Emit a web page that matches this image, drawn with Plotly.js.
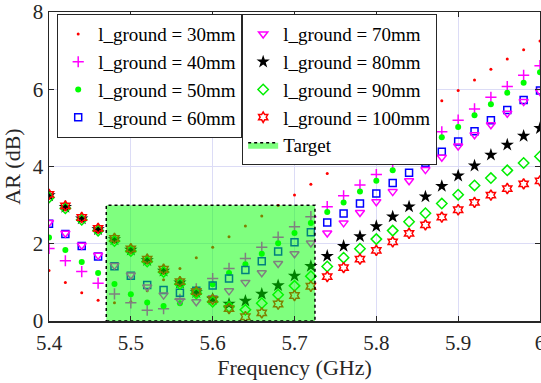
<!DOCTYPE html>
<html><head><meta charset="utf-8">
<script src="https://cdn.plot.ly/plotly-3.0.1.min.js"></script>
<style>html,body{margin:0;padding:0;background:#fff}#chart{width:541px;height:383px}</style>
</head><body><div id="chart"></div>
<script>
const freq = [5.40,5.42,5.44,5.46,5.48,5.50,5.52,5.54,5.56,5.58,5.60,5.62,5.64,5.66,5.68,5.70,5.72,5.74,5.76,5.78,5.80,5.82,5.84,5.86,5.88,5.90,5.92,5.94,5.96,5.98,6.00];
const ar30  = [1.31,1.00,0.73,0.54,0.47,0.50,0.78,1.07,1.36,1.64,1.91,2.18,2.46,2.72,2.99,3.26,3.54,3.82,4.08,4.36,4.63,4.90,5.16,5.43,5.70,5.97,6.24,6.52,6.78,7.02,7.25];
const ar40  = [1.88,1.56,1.28,0.98,0.70,0.47,0.28,0.32,0.56,0.83,1.10,1.36,1.62,1.91,2.17,2.44,2.70,2.96,3.24,3.52,3.79,4.07,4.34,4.62,4.90,5.20,5.49,5.79,6.07,6.36,6.61];
const ar50  = [2.16,1.84,1.53,1.24,0.96,0.69,0.48,0.39,0.46,0.68,0.95,1.24,1.47,1.74,2.01,2.28,2.54,2.82,3.07,3.35,3.63,3.90,4.19,4.47,4.76,5.02,5.33,5.61,5.91,6.17,6.44];
const ar60  = [2.52,2.25,1.94,1.67,1.42,1.17,0.93,0.80,0.73,0.78,0.92,1.10,1.32,1.55,1.80,2.04,2.30,2.55,2.78,3.04,3.30,3.57,3.84,4.10,4.38,4.65,4.91,5.20,5.46,5.72,5.97];
const ar70  = [2.55,2.27,1.96,1.70,1.44,1.19,0.88,0.67,0.53,0.50,0.60,0.78,1.00,1.25,1.49,1.74,2.02,2.28,2.54,2.81,3.09,3.35,3.63,3.92,4.24,4.53,4.82,5.08,5.38,5.68,5.94];
const ar80  = [3.25,2.95,2.65,2.37,2.11,1.84,1.57,1.30,0.99,0.74,0.57,0.44,0.52,0.70,0.92,1.17,1.42,1.68,1.94,2.19,2.45,2.70,2.96,3.22,3.49,3.76,4.02,4.30,4.56,4.79,4.99];
const ar90  = [3.20,2.92,2.62,2.34,2.07,1.81,1.54,1.27,0.96,0.71,0.50,0.37,0.29,0.46,0.68,0.91,1.16,1.41,1.64,1.87,2.12,2.34,2.57,2.79,3.04,3.27,3.51,3.70,3.90,4.09,4.26];
const ar100 = [3.28,2.98,2.68,2.40,2.14,1.87,1.60,1.34,1.02,0.76,0.56,0.32,0.11,0.21,0.44,0.66,0.90,1.15,1.38,1.60,1.83,2.05,2.27,2.49,2.69,2.88,3.07,3.26,3.43,3.55,3.63];
const targetX = [5.47, 5.725, 5.725, 5.47, 5.47];
const targetY = [0, 0, 3, 3, 0];
const names = ['l_ground = 30mm','l_ground = 40mm','l_ground = 50mm','l_ground = 60mm','l_ground = 70mm','l_ground = 80mm','l_ground = 90mm','l_ground = 100mm','Target'];

const FONT = "'Liberation Serif', 'Times New Roman', Times, serif";
function mk(name, y, marker, legend){
  return {type:'scatter', mode:'markers', x:freq, y:y, name:name, marker:marker, legend:legend, hoverinfo:'skip'};
}
const data = [
  mk(names[0], ar30, {symbol:'circle', size:3, color:'#ff0000', line:{width:0}}, 'legend'),
  mk(names[1], ar40, {symbol:'cross-thin', size:8, color:'#ff00ff', line:{width:1.5, color:'#ff00ff'}}, 'legend'),
  mk(names[2], ar50, {symbol:'circle', size:6, color:'#00ff00', line:{width:0}}, 'legend'),
  mk(names[3], ar60, {symbol:'square-open', size:7, color:'#0000ff', line:{width:1.5}}, 'legend'),
  mk(names[4], ar70, {symbol:'triangle-down-open', size:8, color:'#ff00ff', line:{width:1.5}}, 'legend2'),
  mk(names[5], ar80, {symbol:'star', size:10, color:'#000000', line:{width:0}}, 'legend2'),
  mk(names[6], ar90, {symbol:'diamond-open', size:8, color:'#00ee00', line:{width:1.5}}, 'legend2'),
  mk(names[7], ar100, {symbol:'hexagram-open', size:8, color:'#ff0000', line:{width:1.5}}, 'legend2'),
  {type:'scatter', mode:'lines', x:targetX, y:targetY, name:names[8], fill:'toself',
   fillcolor:'rgba(0,255,0,0.5)', line:{color:'#000000', width:1.5, dash:'dot'}, legend:'legend2', hoverinfo:'skip'}
];
const axisCommon = {
  showline:true, mirror:'ticks', linecolor:'#262626', linewidth:1.5,
  ticks:'inside', ticklen:5, tickwidth:1, tickcolor:'#262626',
  showgrid:true, gridcolor:'#dcdcf6', gridwidth:1, zeroline:false,
  ticklabeloverflow:'allow',
  tickfont:{family:FONT, size:21, color:'#262626'}
};
const legendCommon = {
  bgcolor:'#ffffff', bordercolor:'#262626', borderwidth:1.2,
  font:{family:FONT, size:19, color:'#000000'}, xanchor:'left', yanchor:'top',
  traceorder:'normal', itemsizing:'trace'
};
const layout = {
  width:541, height:383,
  margin:{l:49, r:1, t:12, b:62},
  paper_bgcolor:'#ffffff', plot_bgcolor:'#ffffff',
  showlegend:true,
  xaxis: Object.assign({}, axisCommon, {range:[5.4,6.0], tick0:5.4, dtick:0.1, ticklabelstandoff:2,
    title:{text:'Frequency (GHz)', font:{family:FONT, size:22, color:'#262626'}, standoff:6}}),
  yaxis: Object.assign({}, axisCommon, {range:[0,8], tick0:0, dtick:2,
    title:{text:'AR (dB)', font:{family:FONT, size:22, color:'#262626'}, standoff:8}}),
  legend: Object.assign({}, legendCommon, {x:0.0163, y:0.9935}),
  legend2: Object.assign({}, legendCommon, {x:0.393, y:0.9935})
};
Plotly.newPlot('chart', data, layout, {displayModeBar:false, staticPlot:true});
</script></body></html>
